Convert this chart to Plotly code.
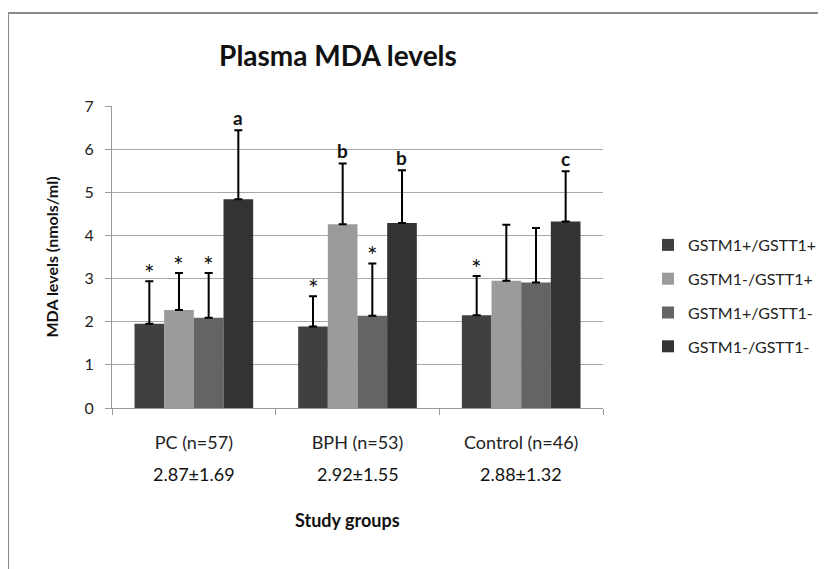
import plotly.graph_objects as go

groups = ["PC (n=57)", "BPH (n=53)", "Control (n=46)"]
group_stats = ["2.87±1.69", "2.92±1.55", "2.88±1.32"]
genotypes = ["GSTM1+/GSTT1+", "GSTM1-/GSTT1+", "GSTM1+/GSTT1-", "GSTM1-/GSTT1-"]

# mean values per genotype (across groups PC, BPH, Control)
mean_pos_pos = [1.95, 1.89, 2.15]
mean_neg_pos = [2.27, 4.26, 2.95]
mean_pos_neg = [2.09, 2.14, 2.91]
mean_neg_neg = [4.84, 4.29, 4.32]

# upper error (SD)
sd_pos_pos = [0.99, 0.70, 0.91]
sd_neg_pos = [0.86, 1.41, 1.30]
sd_pos_neg = [1.04, 1.21, 1.26]
sd_neg_neg = [1.60, 1.22, 1.17]

# significance marks above error bars
mark_pos_pos = ["*", "*", "*"]
mark_neg_pos = ["*", "b", ""]
mark_pos_neg = ["*", "*", ""]
mark_neg_neg = ["a", "b", "c"]

means = [mean_pos_pos, mean_neg_pos, mean_pos_neg, mean_neg_neg]
sds = [sd_pos_pos, sd_neg_pos, sd_pos_neg, sd_neg_neg]
marks = [mark_pos_pos, mark_neg_pos, mark_pos_neg, mark_neg_neg]
colors = ["#404040", "#9b9b9b", "#646464", "#333333"]

FONT = "Lato"

fig = go.Figure()
for i, g in enumerate(genotypes):
    fig.add_trace(go.Bar(
        x=groups, y=means[i], name=g, legendgroup=g,
        marker=dict(color=colors[i], line=dict(width=0)),
        error_y=dict(type="data", symmetric=False, array=sds[i],
                     arrayminus=[0] * len(groups),
                     color="black", thickness=2, width=4),
    ))

OFF = 8  # page body margin
W, H = 826 - OFF, 569 - OFF
L, T = 112 - OFF, 106 - OFF
R = W - (603 - OFF)
B = H - (408 - OFF)
pw = W - L - R
ph = H - T - B
bargap = 0.275
barw = pw / len(groups) * (1 - bargap) / len(genotypes)


def px_x(x):
    return (x - OFF - L) / pw


def px_y(y):
    return (H - B - (y - OFF)) / ph


annotations = []
for i in range(len(genotypes)):
    for j, grp in enumerate(groups):
        m = marks[i][j]
        if m:
            star = m == "*"
            annotations.append(dict(
                x=grp, y=means[i][j] + sds[i][j], xref="x", yref="y",
                text=m if star else "<b>" + m + "</b>", showarrow=False,
                xshift=(i - 1.5) * barw, yanchor="bottom",
                yshift=-9 if star else -1,
                font=dict(family=FONT, size=25 if star else 19, color="#111"),
            ))
for j, grp in enumerate(groups):
    annotations.append(dict(
        x=grp, y=px_y(474), xref="x", yref="paper", text=group_stats[j],
        showarrow=False, yanchor="middle",
        font=dict(family=FONT, size=18, color="#111"),
    ))
annotations.append(dict(
    x=px_x(347), y=px_y(520), xref="paper", yref="paper",
    text="<b>Study groups</b>",
    showarrow=False, yanchor="middle",
    font=dict(family=FONT, size=18, color="#111"),
))

fig.update_layout(
    width=W, height=H,
    margin=dict(l=L, r=R, t=T, b=B, autoexpand=False),
    paper_bgcolor="white", plot_bgcolor="white",
    barmode="group", bargap=bargap, bargroupgap=0,
    title=dict(text="<b>Plasma MDA levels</b>", x=px_x(338), xref="paper",
               xanchor="center", y=1 - (56 - OFF) / H, yref="container", yanchor="middle",
               font=dict(family=FONT, size=28, color="#111")),
    font=dict(family=FONT, size=15, color="#222"),
    xaxis=dict(type="category", tickson="boundaries", ticks="outside", ticklen=6,
               tickcolor="#999", showline=True, linecolor="#999", linewidth=1,
               showgrid=False, tickfont=dict(family=FONT, size=18, color="#222"),
               ticklabelstandoff=18, automargin=False),
    yaxis=dict(range=[0, 7], dtick=1, ticks="outside", ticklen=6, tickcolor="#999",
               showline=True, linecolor="#999", linewidth=1,
               showgrid=True, gridcolor="#a8a8a8", gridwidth=1,
               tickfont=dict(family=FONT, size=16, color="#222"),
               ticklabelstandoff=8, automargin=False,
               title=dict(text="<b>MDA levels (nmols/ml)</b>", standoff=21,
                          font=dict(family=FONT, size=16, color="#111")),
               zeroline=False),
    legend=dict(x=px_x(648), xanchor="left", y=px_y(296), yanchor="middle",
                traceorder="grouped", tracegroupgap=10,
                font=dict(family=FONT, size=16, color="#222"),
                bgcolor="rgba(0,0,0,0)"),
    annotations=annotations,
    shapes=[dict(type="rect", xref="paper", yref="paper",
                 x0=px_x(8), x1=px_x(840),
                 y0=px_y(585), y1=px_y(13),
                 line=dict(color="#8a8a8a", width=2), layer="below")],
)

fig.write_html("out.html")
